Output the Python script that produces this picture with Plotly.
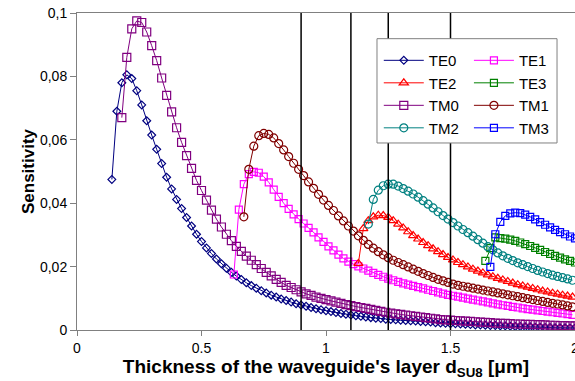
import numpy as np
import plotly.graph_objects as go

# ---------------- data ----------------
STEP = 0.02
te0_x0 = 0.14
te0_y = [0.0475, 0.069, 0.078, 0.0805, 0.0793, 0.0755, 0.071, 0.066, 0.0615, 0.057, 0.0525, 0.0482, 0.0445, 0.0412,
         0.0383, 0.0355, 0.0328, 0.0302, 0.0279, 0.0259, 0.0241, 0.0224, 0.0209, 0.0195, 0.0182, 0.0170, 0.0159, 0.0149,
         0.0140, 0.0132, 0.0124, 0.0117, 0.0110, 0.0104, 0.0098, 0.0093, 0.0088, 0.0083, 0.0079, 0.0075, 0.0071, 0.0067,
         0.0064, 0.0061, 0.0058, 0.0055, 0.0052, 0.0050, 0.0047, 0.0045, 0.0043, 0.0041, 0.0039, 0.0037, 0.0036, 0.0034,
         0.0033, 0.0032, 0.0031, 0.0030, 0.0029, 0.0028, 0.0027, 0.0026, 0.0025, 0.0023, 0.0022, 0.0021, 0.0020, 0.0020,
         0.0019, 0.0018, 0.0017, 0.0016, 0.0016, 0.0015, 0.0014, 0.0014, 0.0013, 0.0013, 0.0012, 0.0011, 0.0011, 0.0010,
         0.0010, 0.0009, 0.0009, 0.0008, 0.0008, 0.0007, 0.0007, 0.0007, 0.0006, 0.0006]

tm0_x0 = 0.18
tm0_y = [0.067, 0.086, 0.095, 0.0975, 0.097, 0.094, 0.0897, 0.085, 0.0795, 0.0740, 0.0688, 0.0638, 0.0592, 0.0550,
         0.0510, 0.0472, 0.0440, 0.0410, 0.0378, 0.0350, 0.0325, 0.0302, 0.0282, 0.0264, 0.0248, 0.0233, 0.0220, 0.0206,
         0.0194, 0.0182, 0.0171, 0.0160, 0.0150, 0.0141, 0.0134, 0.0127, 0.0120, 0.0114, 0.0109, 0.0104, 0.0100, 0.0096,
         0.0092, 0.0088, 0.0084, 0.0080, 0.0077, 0.0074, 0.0071, 0.0068, 0.0065, 0.0062, 0.0059, 0.0056, 0.0053, 0.0051,
         0.0049, 0.0047, 0.0045, 0.0043, 0.0041, 0.0039, 0.0037, 0.0035, 0.0033, 0.0032, 0.0031, 0.0030, 0.0029, 0.0028,
         0.0027, 0.0026, 0.0025, 0.0024, 0.0023, 0.0022, 0.0021, 0.0021, 0.0020, 0.0019, 0.0019, 0.0018, 0.0018, 0.0017,
         0.0017, 0.0016, 0.0015, 0.0015, 0.0014, 0.0014, 0.0013, 0.0013]

te1_x0 = 0.63
te1_y = [0.0175, 0.0380, 0.0460, 0.0492, 0.0499, 0.0496, 0.0484, 0.0466, 0.0443, 0.0420, 0.0400, 0.0382, 0.0365,
         0.0350, 0.0336, 0.0322, 0.0308, 0.0292, 0.0278, 0.0264, 0.0251, 0.0238, 0.0226, 0.0216, 0.0208, 0.0201, 0.0194,
         0.0187, 0.0180, 0.0174, 0.0168, 0.0162, 0.0157, 0.0152, 0.0147, 0.0143, 0.0139, 0.0135, 0.0131, 0.0127, 0.0123,
         0.0119, 0.0115, 0.0111, 0.0108, 0.0105, 0.0102, 0.0099, 0.0096, 0.0093, 0.0090, 0.0087, 0.0084, 0.0081, 0.0078,
         0.0076, 0.0073, 0.0071, 0.0068, 0.0066, 0.0064, 0.0062, 0.0060, 0.0058, 0.0056, 0.0054, 0.0052, 0.0050, 0.0048]

tm1_x0 = 0.67
tm1_y = [0.0357, 0.0507, 0.0580, 0.0613, 0.0620, 0.0617, 0.0606, 0.0588, 0.0568, 0.0547, 0.0526, 0.0507, 0.0487,
         0.0467, 0.0447, 0.0428, 0.0410, 0.0393, 0.0377, 0.0360, 0.0344, 0.0328, 0.0312, 0.0297, 0.0283, 0.0270, 0.0258,
         0.0247, 0.0237, 0.0228, 0.0220, 0.0213, 0.0206, 0.0199, 0.0192, 0.0185, 0.0178, 0.0172, 0.0166, 0.0160, 0.0155,
         0.0150, 0.0145, 0.0141, 0.0138, 0.0135, 0.0132, 0.0129, 0.0126, 0.0123, 0.0120, 0.0117, 0.0114, 0.0111, 0.0108,
         0.0105, 0.0102, 0.0099, 0.0096, 0.0093, 0.0090, 0.0087, 0.0084, 0.0082, 0.0079, 0.0076, 0.0073]

te2_x0 = 1.13
te2_y = [0.0210, 0.0320, 0.0345, 0.0357, 0.0362, 0.0361, 0.0355, 0.0345, 0.0334, 0.0322, 0.0310, 0.0298, 0.0287,
         0.0276, 0.0266, 0.0256, 0.0247, 0.0238, 0.0229, 0.0221, 0.0213, 0.0206, 0.0199, 0.0192, 0.0186, 0.0180, 0.0174,
         0.0168, 0.0163, 0.0158, 0.0153, 0.0148, 0.0143, 0.0139, 0.0135, 0.0131, 0.0127, 0.0123, 0.0120, 0.0116, 0.0113,
         0.0110, 0.0107, 0.0104]

tm2_x0 = 1.17
tm2_y = [0.0334, 0.0412, 0.0441, 0.0455, 0.0460, 0.0460, 0.0454, 0.0446, 0.0438, 0.0429, 0.0419, 0.0408, 0.0397,
         0.0385, 0.0373, 0.0361, 0.0350, 0.0339, 0.0328, 0.0317, 0.0307, 0.0296, 0.0285, 0.0274, 0.0263, 0.0253, 0.0243,
         0.0234, 0.0226, 0.0219, 0.0212, 0.0206, 0.0200, 0.0194, 0.0188, 0.0183, 0.0178, 0.0173, 0.0169, 0.0165, 0.0161,
         0.0157]

te3_x0 = 1.64
te3_y = [0.0218, 0.0258, 0.0292, 0.0290, 0.0288, 0.0285, 0.0281, 0.0276, 0.0271, 0.0265, 0.0259, 0.0253, 0.0246,
         0.0240, 0.0234, 0.0228, 0.0223, 0.0218, 0.0213]

tm3_x0 = 1.66
tm3_y = [0.0199, 0.0302, 0.0341, 0.0360, 0.0368, 0.0370, 0.0369, 0.0364, 0.0357, 0.0349, 0.0340, 0.0332, 0.0324,
         0.0316, 0.0309, 0.0302, 0.0295, 0.0289]

mode_lines = [0.9, 1.1, 1.25, 1.5]
x_ticks = [0, 0.5, 1, 1.5, 2]
x_tick_text = ["0", "0.5", "1", "1.5", "2"]
y_ticks = [0, 0.02, 0.04, 0.06, 0.08, 0.1]
y_tick_text = ["0", "0,02", "0,04", "0,06", "0,08", "0,1"]

# ---------------- styling ----------------
FONT = "Liberation Sans, Arial, sans-serif"
series = [
    ("TE0", te0_x0, te0_y, "#000080", "diamond-open", 6, "legend"),
    ("TE1", te1_x0, te1_y, "#FF00FF", "square-open", 7, "legend2"),
    ("TE2", te2_x0, te2_y, "#FF0000", "triangle-up-open", 8, "legend"),
    ("TE3", te3_x0, te3_y, "#008000", "square-open", 7, "legend2"),
    ("TM0", tm0_x0, tm0_y, "#800080", "square-open", 8, "legend"),
    ("TM1", tm1_x0, tm1_y, "#800000", "circle-open", 8, "legend2"),
    ("TM2", tm2_x0, tm2_y, "#008080", "circle-open", 8, "legend"),
    ("TM3", tm3_x0, tm3_y, "#0000FF", "square-open", 7, "legend2"),
]

fig = go.Figure()
for name, x0, ys, col, sym, sz, leg in series:
    xs = np.round(x0 + STEP * np.arange(len(ys)), 3)
    fig.add_trace(go.Scatter(
        x=xs, y=ys, name=name, mode="lines+markers", legend=leg, legendgroup=name,
        line=dict(color=col, width=1),
        marker=dict(symbol=sym, size=sz, color=col, line=dict(color=col, width=1.2)),
    ))

shapes = []
for v in mode_lines:
    shapes.append(dict(type="line", xref="x", yref="paper", x0=v, x1=v, y0=0, y1=1,
                       line=dict(color="black", width=1.5), layer="above"))
# legend frame
shapes.append(dict(type="rect", xref="paper", yref="paper", x0=0.6024, x1=0.9639, y0=0.590, y1=0.919,
                   line=dict(color="#808080", width=1), fillcolor="white", layer="above"))

legend_common = dict(font=dict(family=FONT, size=15, color="black"), bgcolor="rgba(0,0,0,0)",
                     borderwidth=0, itemwidth=40, tracegroupgap=0, traceorder="grouped",
                     yanchor="top", xanchor="left", itemclick=False)

fig.update_layout(
    width=575, height=381,
    margin=dict(l=77, r=0, t=13, b=51, autoexpand=False),
    paper_bgcolor="white", plot_bgcolor="white",
    font=dict(family=FONT, size=14, color="black"),
    shapes=shapes,
    legend=dict(x=0.606, y=0.902, **legend_common),
    legend2=dict(x=0.787, y=0.902, **legend_common),
    xaxis=dict(range=[0, 2], tickvals=x_ticks, ticktext=x_tick_text, showgrid=False, zeroline=False,
               showline=True, linecolor="#808080", linewidth=1, mirror=True, automargin=False,
               ticks="outside", ticklen=5, tickcolor="#808080", ticklabeloverflow="allow",
               tickfont=dict(family=FONT, size=14),
               title=dict(text="<b>Thickness of the waveguide's layer d<sub>SU8</sub> [μm]</b>",
                          font=dict(family=FONT, size=19), standoff=3)),
    yaxis=dict(range=[0, 0.1], tickvals=y_ticks, ticktext=y_tick_text, showgrid=False, zeroline=False,
               showline=True, linecolor="#808080", linewidth=1, automargin=False,
               ticks="outside", ticklen=6, tickcolor="#808080",
               tickfont=dict(family=FONT, size=14),
               title=dict(text="<b>Sensitivity</b>", font=dict(family=FONT, size=17), standoff=1)),
    showlegend=True,
)

fig.write_html("out.html")
